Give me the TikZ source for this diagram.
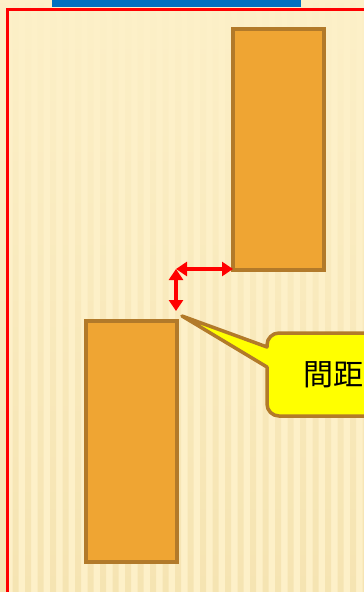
\documentclass[tikz,border=0pt]{standalone}
\usepackage{fontspec}
\newfontfamily\cjk{Noto Sans CJK TC}
\usetikzlibrary{arrows.meta,fadings}
\definecolor{bg}{HTML}{FDF0C8}
\definecolor{stripe}{HTML}{EDD698}
\definecolor{boxfill}{HTML}{EFA533}
\definecolor{boxline}{HTML}{B27A2A}
\definecolor{barblue}{HTML}{0070C0}
\definecolor{callfill}{HTML}{FFFF00}
\tikzset{
  bar/.style={rectangle,draw=boxline,fill=boxfill,line width=3.5pt,minimum width=91pt,minimum height=241pt,inner sep=0pt,outer sep=0pt,anchor=north west},
  gap/.style={draw=red,line width=4pt,{Triangle[length=11pt,width=14pt]}-{Triangle[length=11pt,width=14pt]}},
  callout/.style={draw=boxline,fill=callfill,line width=3.5pt,line join=round},
  frame/.style={draw=red,line width=3pt}
}
\begin{document}
\begin{tikzpicture}[x=1pt,y=-1pt]
\useasboundingbox (0,0) rectangle (364,592);
\clip (0,0) rectangle (364,592);
\fill[bg] (0,0) rectangle (364,592);
\fill[stripe,opacity=0.45,path fading=north]
  \foreach \i in {0,...,30} { (\i*12.5,0) rectangle (\i*12.5+6,592) };
\fill[barblue] (52,0) rectangle (301,7);
\draw[frame] (7,600) -- (7,9) -- (370,9);
\node[bar] (top) at (233,29) {};
\node[bar] (bot) at (86,321) {};
\coordinate (c) at (176,269);
\coordinate (v) at (176,311);
\draw[gap] (c) -- (c -| top.west);
\draw[gap] (c) -- (v);
\coordinate (tip) at (182,316);
\draw[callout] (267,347) [rounded corners=12pt] -- (267,333) -- (430,333) -- (430,416) -- (267,416) [sharp corners] -- (267,367) -- (tip) -- cycle;
\node[inner sep=0pt,font=\cjk\fontsize{30pt}{36pt}\selectfont] (label) at (333,375) {間距};
\end{tikzpicture}
\end{document}
